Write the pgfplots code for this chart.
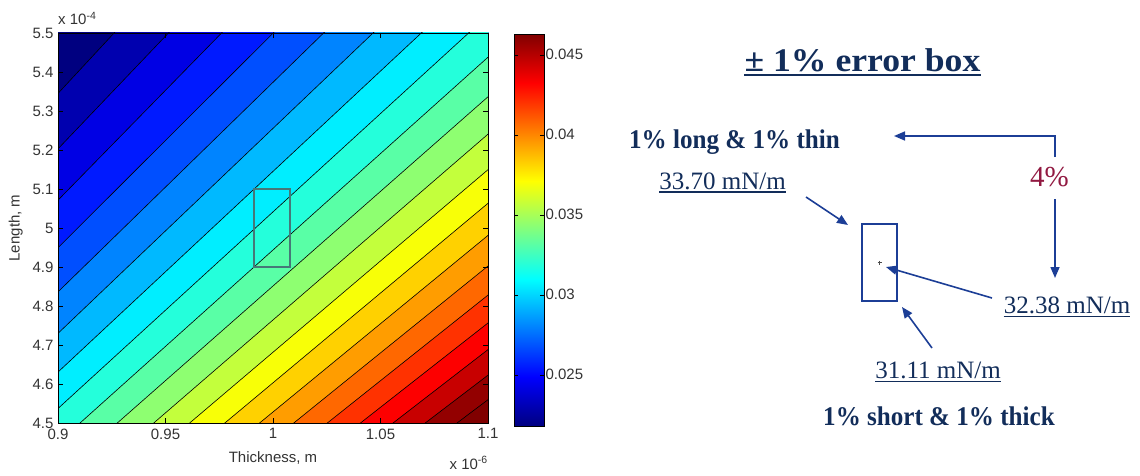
\documentclass[border=0pt]{standalone}
\usepackage{fontspec}
\setmainfont{Liberation Sans}
\newfontfamily\notefont{Liberation Serif}
\usepackage{graphicx}
\usepackage{pgfplots}
\pgfplotsset{compat=1.18}
\usetikzlibrary{arrows.meta}

% band colours of the filled contour (jet, lower level of each band)
\definecolor{c0}{rgb}{0,0,0.5}
\definecolor{c1}{rgb}{0,0,0.688}
\definecolor{c2}{rgb}{0,0,0.896}
\definecolor{c3}{rgb}{0,0.103,1}
\definecolor{c4}{rgb}{0,0.311,1}
\definecolor{c5}{rgb}{0,0.518,1}
\definecolor{c6}{rgb}{0,0.726,1}
\definecolor{c7}{rgb}{0,0.934,1}
\definecolor{c8}{rgb}{0.141,1,0.859}
\definecolor{c9}{rgb}{0.349,1,0.651}
\definecolor{c10}{rgb}{0.556,1,0.444}
\definecolor{c11}{rgb}{0.764,1,0.236}
\definecolor{c12}{rgb}{0.971,1,0.029}
\definecolor{c13}{rgb}{1,0.821,0}
\definecolor{c14}{rgb}{1,0.614,0}
\definecolor{c15}{rgb}{1,0.406,0}
\definecolor{c16}{rgb}{1,0.198,0}
\definecolor{c17}{rgb}{0.991,0,0}
\definecolor{c18}{rgb}{0.783,0,0}
\definecolor{c19}{rgb}{0.576,0,0}
\definecolor{c20}{rgb}{0.5,0,0}

\definecolor{navytext}{RGB}{18,45,90}
\definecolor{arrowblue}{RGB}{28,62,150}
\definecolor{maroon}{RGB}{145,25,65}
\definecolor{boxgrey}{RGB}{70,120,120}

\tikzset{
  band/.style={draw=black, line width=0.6pt, fill=#1},
  note/.style={anchor=base, inner sep=0pt, text=navytext},
  pointer/.style={arrowblue, line width=1.6pt, -{Triangle[length=11pt,width=9pt]}},
}

\begin{document}
\begin{tikzpicture}[x=1pt,y=1pt]
\path (0,0) rectangle (1140,475);

\begin{axis}[
  at={(58pt,52pt)}, anchor=south west,
  scale only axis, width=430pt, height=390pt,
  xmin=0.9, xmax=1.1, ymin=4.5, ymax=5.5,
  axis on top,
  xtick={0.9,0.95,1,1.05,1.1},
  xticklabels={0.9,0.95,1,1.05,1.1},
  ytick={4.5,4.6,4.7,4.8,4.9,5,5.1,5.2,5.3,5.4,5.5},
  yticklabels={4.5,4.6,4.7,4.8,4.9,5,5.1,5.2,5.3,5.4,5.5},
  scaled ticks=false,
  tick align=inside, major tick length=5pt,
  tick style={black, line width=0.6pt},
  axis line style={black, line width=0.8pt},
  tick label style={font=\fontsize{15}{17}\selectfont, text=black!80},
  xticklabel style={yshift=-2pt},
  yticklabel style={xshift=-1pt},
  xlabel={Thickness, m},
  ylabel={Length, m},
  xlabel style={at={(axis description cs:0.5,-0.1)}, anchor=base,
    font=\fontsize{15}{17}\selectfont, text=black!80},
  ylabel style={at={(axis description cs:-0.098,0.5)}, anchor=center,
    font=\fontsize{15}{17}\selectfont, text=black!80},
  colormap/jet,
  point meta min=0.0218, point meta max=0.0463,
  colorbar,
  colorbar/width=30pt,
  colorbar style={
    at={(parent axis.north east)}, anchor=north west,
    xshift=17.5pt, yshift=-1pt,
    height=392pt,
    ymin=0.0218, ymax=0.0463, enlargelimits=false,
    ytick={0.025,0.03,0.035,0.04,0.045},
    yticklabels={0.025,0.03,0.035,0.04,0.045},
    scaled y ticks=false,
    yticklabel pos=right, ytick pos=both,
    tick align=inside, major tick length=4pt,
    tick style={black, line width=0.6pt},
    axis line style={black, line width=0.8pt},
    yticklabel style={font=\fontsize{15}{17}\selectfont, text=black!80, xshift=-2pt},
  },
]
% lowest band fills the whole frame
\addplot[draw=none, fill=c0] coordinates {(0.85,3) (1.15,3) (1.15,7) (0.85,7)} -- cycle;
% each contour level: region below the level line, its top edge is the contour line
\addplot[band=c1]  coordinates {(0.85,5.0481) (1.15,6.8298) (1.15,3) (0.85,3)} -- cycle;
\addplot[band=c2]  coordinates {(0.85,4.9139) (1.15,6.6482) (1.15,3) (0.85,3)} -- cycle;
\addplot[band=c3]  coordinates {(0.85,4.7896) (1.15,6.4800) (1.15,3) (0.85,3)} -- cycle;
\addplot[band=c4]  coordinates {(0.85,4.6745) (1.15,6.3243) (1.15,3) (0.85,3)} -- cycle;
\addplot[band=c5]  coordinates {(0.85,4.5675) (1.15,6.1795) (1.15,3) (0.85,3)} -- cycle;
\addplot[band=c6]  coordinates {(0.85,4.4671) (1.15,6.0437) (1.15,3) (0.85,3)} -- cycle;
\addplot[band=c7]  coordinates {(0.85,4.3733) (1.15,5.9169) (1.15,3) (0.85,3)} -- cycle;
\addplot[band=c8]  coordinates {(0.85,4.2851) (1.15,5.7975) (1.15,3) (0.85,3)} -- cycle;
\addplot[band=c9]  coordinates {(0.85,4.2021) (1.15,5.6851) (1.15,3) (0.85,3)} -- cycle;
\addplot[band=c10] coordinates {(0.85,4.1236) (1.15,5.5790) (1.15,3) (0.85,3)} -- cycle;
\addplot[band=c11] coordinates {(0.85,4.0496) (1.15,5.4788) (1.15,3) (0.85,3)} -- cycle;
\addplot[band=c12] coordinates {(0.85,3.9792) (1.15,5.3836) (1.15,3) (0.85,3)} -- cycle;
\addplot[band=c13] coordinates {(0.85,3.9126) (1.15,5.2935) (1.15,3) (0.85,3)} -- cycle;
\addplot[band=c14] coordinates {(0.85,3.8490) (1.15,5.2074) (1.15,3) (0.85,3)} -- cycle;
\addplot[band=c15] coordinates {(0.85,3.7884) (1.15,5.1254) (1.15,3) (0.85,3)} -- cycle;
\addplot[band=c16] coordinates {(0.85,3.7307) (1.15,5.0474) (1.15,3) (0.85,3)} -- cycle;
\addplot[band=c17] coordinates {(0.85,3.6755) (1.15,4.9727) (1.15,3) (0.85,3)} -- cycle;
\addplot[band=c18] coordinates {(0.85,3.6227) (1.15,4.9013) (1.15,3) (0.85,3)} -- cycle;
\addplot[band=c19] coordinates {(0.85,3.5720) (1.15,4.8328) (1.15,3) (0.85,3)} -- cycle;
\addplot[band=c20] coordinates {(0.85,3.5234) (1.15,4.7670) (1.15,3) (0.85,3)} -- cycle;
% error box around the nominal point
\addplot[boxgrey, line width=2pt] coordinates {(0.991,4.9) (1.008,4.9) (1.008,5.1) (0.991,5.1)} -- cycle;
\end{axis}

% axis exponent labels
\node[anchor=base west, inner sep=0pt, font=\fontsize{15}{17}\selectfont, text=black!80]
  at (58,450) {x 10\textsuperscript{-4}};
\node[anchor=base east, inner sep=0pt, font=\fontsize{15}{17}\selectfont, text=black!80]
  at (488,6) {x 10\textsuperscript{-6}};

% schematic of the error box
\begin{axis}[
  at={(862pt,174pt)}, anchor=south west,
  scale only axis, width=35pt, height=77pt,
  xmin=0.99, xmax=1.01, ymin=4.9, ymax=5.1,
  hide axis, clip=false,
]
\addplot[arrowblue, line width=1.6pt] coordinates {(0.99,4.9) (1.01,4.9) (1.01,5.1) (0.99,5.1)} -- cycle;
\addplot[only marks, mark=+, mark size=2pt, black!70, mark options={line width=0.6pt}] coordinates {(1,5)};
\end{axis}

% heading
\node[note, font=\notefont\bfseries\fontsize{33}{36}\selectfont] (h) at (862.5,403)
  {\scalebox{1.08}[1]{± 1\% error box}};
\draw[navytext, line width=2pt] ([yshift=-3.5pt]h.base west) -- ([yshift=-3.5pt]h.base east);

% corner cases and nominal value
\node[note, font=\notefont\bfseries\fontsize{27}{30}\selectfont] at (734.5,326.2)
  {\scalebox{0.93}[1]{1\% long \& 1\% thin}};
\node[note, font=\notefont\fontsize{25}{28}\selectfont] (a) at (722.5,286) {33.70 mN/m};
\draw[navytext, line width=1.3pt] ([yshift=-3pt]a.base west) -- ([yshift=-3pt]a.base east);

\node[note, font=\notefont\fontsize{25}{28}\selectfont] (b) at (1067,161.7) {32.38 mN/m};
\draw[navytext, line width=1.3pt] ([yshift=-3pt]b.base west) -- ([yshift=-3pt]b.base east);

\node[note, font=\notefont\fontsize{25}{28}\selectfont] (c) at (938,96.7) {31.11 mN/m};
\draw[navytext, line width=1.3pt] ([yshift=-3pt]c.base west) -- ([yshift=-3pt]c.base east);

\node[note, font=\notefont\bfseries\fontsize{27}{30}\selectfont] at (939,50)
  {\scalebox{0.93}[1]{1\% short \& 1\% thick}};

\node[anchor=base, inner sep=0pt, text=maroon, font=\notefont\fontsize{29}{32}\selectfont]
  at (1049.5,288.3) {4\%};

% pointers
\draw[pointer] (1055,318) -- (1055,339) -- (894,339);
\draw[pointer] (1055,276) -- (1055,197);
\draw[pointer] (806,278) -- (848,250);
\draw[pointer] (992,177) -- (886,208);
\draw[pointer] (932,127) -- (902,168);
\end{tikzpicture}
\end{document}
